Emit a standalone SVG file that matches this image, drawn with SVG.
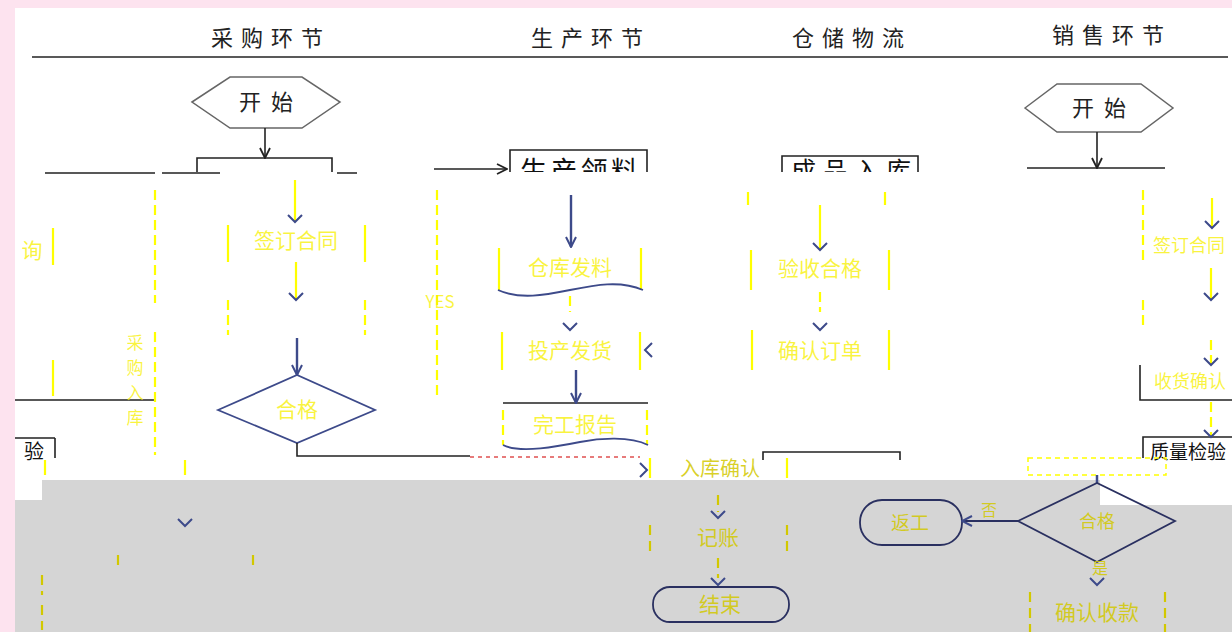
<svg xmlns="http://www.w3.org/2000/svg" width="1232" height="632" viewBox="0 0 1232 632">
<defs>
<style>
.hd{font-family:"Noto Sans CJK SC","Liberation Sans",sans-serif;font-size:22px;fill:#222;text-anchor:middle}
.bt{font-family:"Noto Sans CJK SC","Liberation Sans",sans-serif;font-size:25px;fill:#111}
.yt{font-family:"Noto Sans CJK SC","Liberation Sans",sans-serif;font-size:21px;fill:#f8f000;fill-opacity:0.75;text-anchor:middle}
.ytg{font-family:"Noto Sans CJK SC","Liberation Sans",sans-serif;font-size:21px;fill:#d2c800;fill-opacity:0.85;text-anchor:middle}
.bk{fill:none;stroke:#222;stroke-width:1.6}
.ar{fill:none;stroke:#3d4a8a;stroke-width:2.4}
.ah{fill:none;stroke:#3d4a8a;stroke-width:2}
.yl{fill:none;stroke:#ffff00;stroke-width:2.2}
.yd{fill:none;stroke:#ffff00;stroke-width:2.2;stroke-dasharray:10 5}
.yg{fill:none;stroke:#d2c800;stroke-width:2.2;stroke-dasharray:10 6}
.sh{fill:none;stroke:#3d4a8a;stroke-width:1.8}
</style>
<marker id="v" viewBox="0 0 12 12" refX="11" refY="6" markerWidth="12" markerHeight="12" markerUnits="userSpaceOnUse" orient="auto">
<path d="M1,1 L11,6 L1,11" fill="none" stroke="#3d4a8a" stroke-width="2"/>
</marker>
<marker id="vk" viewBox="0 0 12 12" refX="11" refY="6" markerWidth="12" markerHeight="12" markerUnits="userSpaceOnUse" orient="auto">
<path d="M1,1 L11,6 L1,11" fill="none" stroke="#222" stroke-width="1.8"/>
</marker>
<clipPath id="c1"><rect x="0" y="0" width="1232" height="172"/></clipPath>
</defs>
<rect x="0" y="0" width="1232" height="632" fill="#ffffff"/>
<g id="header">
<text class="hd" x="267" y="46" textLength="112" lengthAdjust="spacing">采购环节</text>
<text class="hd" x="587" y="46" textLength="112" lengthAdjust="spacing">生产环节</text>
<text class="hd" x="848" y="46" textLength="112" lengthAdjust="spacing">仓储物流</text>
<text class="hd" x="1108" y="43" textLength="112" lengthAdjust="spacing">销售环节</text>
<line x1="32" y1="57" x2="1228" y2="57" stroke="#222" stroke-width="1.5"/>
</g>
<g id="start-purchase">
<polygon points="192,102 230,77 302,77 340,102 302,128 230,128" fill="#fff" stroke="#666" stroke-width="1.5"/>
<text class="hd" x="266" y="110" textLength="54" lengthAdjust="spacing">开始</text>
</g>
<g id="start-sales">
<polygon points="1025,108 1057,84 1141,84 1173,108 1141,132 1057,132" fill="#fff" stroke="#666" stroke-width="1.5"/>
<text class="hd" x="1099" y="116" textLength="54" lengthAdjust="spacing">开始</text>
</g>
<g id="purchase-left">
<path class="bk" d="M45,173 H155 M162,173 H220 M337,173 H357 M15,400 H155 M15,438 H55 M55,438 V458"/>
<path class="yl" d="M53,228 V265 M53,360 V396"/>
<path class="yd" d="M155,190 V303 M155,332 V455"/>
<text class="yt" x="32" y="258">询</text>
<text class="yt" x="135" y="334" style="font-size:17px;text-anchor:start" writing-mode="tb" letter-spacing="8">采购入库</text>
<text class="bt" x="44" y="459" style="font-size:20px;text-anchor:end">验</text>
</g>
<g id="purchase-box1">
<path class="yl" d="M228,225 V262 M365,225 V262"/>
<text class="yt" x="296" y="248">签订合同</text>
</g>
<g id="purchase-box2">
<path class="yd" d="M228,300 V335 M365,300 V335"/>
</g>
<g id="purchase-decision">
<polygon points="218,410 297,375 375,410 297,443" fill="none" stroke="#3d4a8a" stroke-width="1.8"/>
<text class="yt" x="297" y="417">合格</text>
</g>
<g id="prod-issue">
<path class="bk" d="M510,172 V150 H647 V172"/>
<text class="bt" x="579" y="181" style="font-size:27px;text-anchor:middle" textLength="118" lengthAdjust="spacing" clip-path="url(#c1)">生产领料</text>
<path class="yd" d="M437,190 V400"/>
<text class="yt" x="440" y="308" style="font-size:17px">YES</text>
</g>
<g id="prod-doc1">
<path class="yl" d="M499,248 V290 M641,248 V290"/>
<path class="sh" d="M498,290 C520,300 545,295 570,290 S620,280 643,290"/>
<text class="yt" x="570" y="275">仓库发料</text>
</g>
<g id="prod-box">
<path class="yl" d="M502,332 V370 M640,332 V370"/>
<text class="yt" x="570" y="358">投产发货</text>
</g>
<g id="prod-doc2">
<path class="bk" d="M503,403 H648"/>
<path class="yd" d="M503,410 V445 M647,410 V445"/>
<path class="sh" d="M503,445 C520,454 560,446 580,442 S630,436 648,445"/>
<text class="yt" x="575" y="432">完工报告</text>
</g>
<g id="wh-in">
<path class="bk" d="M782,172 V156 H918 V172"/>
<text class="bt" x="851" y="180" style="font-size:25px;text-anchor:middle" textLength="120" lengthAdjust="spacing" clip-path="url(#c1)">成品入库</text>
<path class="yl" d="M748,192 V205 M885,192 V205"/>
</g>
<g id="wh-box1">
<path class="yl" d="M751,250 V290 M889,250 V290"/>
<text class="yt" x="820" y="276">验收合格</text>
</g>
<g id="wh-box2">
<path class="yl" d="M752,330 V370 M889,330 V370"/>
<text class="yt" x="820" y="358">确认订单</text>
</g>
<g id="wh-box3">
<path class="bk" d="M763,460 V452 H900 V460"/>
</g>
<g id="sales-boxes">
<path class="bk" d="M1027,168 H1165"/>
<path class="yd" d="M1143,190 V265 M1143,300 V330"/>
<text class="yt" x="1189" y="252" style="font-size:18px">签订合同</text>
<path class="bk" d="M1140,365 V400 H1232"/>
<text class="yt" x="1190" y="388" style="font-size:18px">收货确认</text>
<path class="bk" d="M1143,458 V437 H1232"/>
<text class="bt" x="1150" y="459" style="font-size:19px">质量检验</text>
</g>
<g id="connectors-top">
<path class="bk" d="M265,128 V158" marker-end="url(#vk)"/>
<path class="bk" d="M197,172 V158 H332 V172"/>
<path class="yl" d="M295,180 V222"/>
<path class="ah" d="M288,215 L295,222 L302,215"/>
<path class="yl" d="M296,262 V300"/>
<path class="ah" d="M289,293 L296,300 L303,293"/>
<path class="ar" d="M297,338 V375" marker-end="url(#v)"/>
<path class="bk" d="M297,443 V456 H470"/>
<path d="M470,457 H640" stroke="#e05050" stroke-width="1.5" stroke-dasharray="4 4" fill="none"/>
<path class="bk" d="M434,169 H507" marker-end="url(#vk)"/>
<path class="ar" d="M571,195 V247" marker-end="url(#v)"/>
<path class="yd" d="M570,296 V312"/>
<path class="ah" d="M563,323 L570,330 L577,323"/>
<path class="ah" d="M652,343 L645,350 L652,357"/>
<path class="ar" d="M576,370 V403" marker-end="url(#v)"/>
<path class="yl" d="M820,205 V250"/>
<path class="ah" d="M813,243 L820,250 L827,243"/>
<path class="yd" d="M820,292 V312"/>
<path class="ah" d="M813,323 L820,330 L827,323"/>
<path class="bk" d="M1097,132 V168" marker-end="url(#vk)"/>
<path class="yl" d="M1212,198 V228"/>
<path class="ah" d="M1205,221 L1212,228 L1219,221"/>
<path class="yl" d="M1211,268 V300"/>
<path class="ah" d="M1204,293 L1211,300 L1218,293"/>
<path class="yd" d="M1211,340 V365"/>
<path class="ah" d="M1204,358 L1211,365 L1218,358"/>
<path class="yd" d="M1211,402 V437"/>
<path class="ah" d="M1204,430 L1211,437 L1218,430"/>
</g>
<g id="lower-strip">
<path class="yl" d="M650,458 V478 M787,458 V478"/>
<text class="ytg" x="720" y="476" style="font-size:20px">入库确认</text>
<path class="ah" d="M640,463 L647,470 L640,477"/>
<rect x="1028" y="458" width="138" height="17" fill="none" stroke="#ffff00" stroke-width="1.5" stroke-dasharray="5 4"/>
<path class="yl" d="M45,460 V475 M185,460 V475"/>
</g>
<path id="gray-area" d="M42,480 H1100 V505 H1232 V632 H15 V500 H42 Z" fill="#d5d5d5"/>
<g id="wh-post">
<path class="yg" d="M718,495 V512"/>
<path class="ah" d="M711,511 L718,518 L725,511"/>
<path class="yg" d="M650,525 V555 M787,525 V555"/>
<text class="ytg" x="718" y="545">记账</text>
<path class="yg" d="M718,558 V578"/>
<path class="ah" d="M711,578 L718,585 L725,578"/>
</g>
<g id="end">
<rect x="653" y="587" width="136" height="35" rx="17" fill="none" stroke="#2a3060" stroke-width="1.8"/>
<text class="ytg" x="720" y="612">结束</text>
</g>
<g id="sales-decision">
<path d="M1097,475 V483" stroke="#3d4a8a" stroke-width="2.5"/>
<polygon points="1018,521 1097,483 1175,521 1097,562" fill="none" stroke="#2a3060" stroke-width="1.8"/>
<text class="ytg" x="1097" y="528" style="font-size:18px">合格</text>
</g>
<g id="rework">
<rect x="860" y="500" width="102" height="45" rx="22" fill="none" stroke="#2a3060" stroke-width="1.8"/>
<text class="ytg" x="910" y="530" style="font-size:19px">返工</text>
</g>
<g id="sales-final">
<path class="yg" d="M1030,592 V632 M1165,592 V632"/>
<text class="ytg" x="1097" y="620">确认收款</text>
</g>
<g id="connectors-lower">
<path d="M1018,521 H962" stroke="#2a3060" stroke-width="1.8" fill="none" marker-end="url(#v)"/>
<text class="ytg" x="989" y="516" style="font-size:16px">否</text>
<text class="ytg" x="1100" y="574" style="font-size:16px">是</text>
<path class="ah" d="M1090,578 L1097,585 L1104,578"/>
<path class="ah" d="M178,519 L185,526 L192,519"/>
<path class="yg" d="M42,575 V595 M42,605 V630 M118,555 V570 M253,555 V570"/>
</g>
<g id="frame">
<rect x="0" y="0" width="15" height="632" fill="#fde3ef"/>
<rect x="0" y="0" width="1232" height="8" fill="#fde3ef"/>
</g>
</svg>
